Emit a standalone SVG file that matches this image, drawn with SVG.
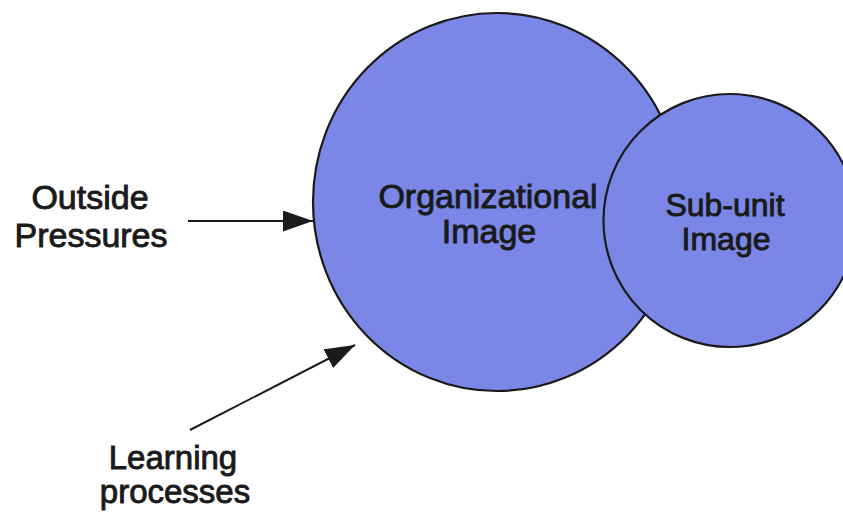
<svg xmlns="http://www.w3.org/2000/svg" width="843" height="517" viewBox="0 0 843 517">
  <style>
    .bubble { fill: #7a87e6; stroke: #1a1a1a; stroke-width: 2.2; }
    .label { font-family: "Liberation Sans", Arial, sans-serif; fill: #1a1a1a; stroke: #1a1a1a; stroke-width: 0.9; text-anchor: middle; }
    .link { stroke: #1a1a1a; stroke-width: 2; fill: none; marker-end: url(#head); }
  </style>
  <defs>
    <marker id="head" markerUnits="userSpaceOnUse" markerWidth="31" markerHeight="22" refX="30" refY="10.5" orient="auto" viewBox="0 0 31 22">
      <path d="M0,0 L30,10.5 L0,21 z" fill="#1a1a1a"/>
    </marker>
  </defs>
  <rect width="843" height="517" fill="#ffffff"/>

  <g id="organizational-image">
    <ellipse class="bubble" cx="497" cy="202" rx="184" ry="189"/>
    <text class="label" font-size="34" x="488" y="208">Organizational</text>
    <text class="label" font-size="34" x="489" y="243">Image</text>
  </g>

  <g id="sub-unit-image">
    <circle class="bubble" cx="730" cy="220.5" r="126.5"/>
    <text class="label" font-size="32" x="725" y="216">Sub-unit</text>
    <text class="label" font-size="32" x="726" y="250">Image</text>
  </g>

  <g id="outside-pressures">
    <text class="label" font-size="34" x="90" y="209">Outside</text>
    <text class="label" font-size="34" x="91" y="247">Pressures</text>
  </g>

  <g id="learning-processes">
    <text class="label" font-size="33" x="173" y="469">Learning</text>
    <text class="label" font-size="33" x="175" y="503">processes</text>
  </g>

  <g id="connectors">
    <line class="link" x1="188" y1="221" x2="313" y2="221"/>
    <line class="link" x1="190" y1="430" x2="355" y2="345"/>
  </g>
</svg>
